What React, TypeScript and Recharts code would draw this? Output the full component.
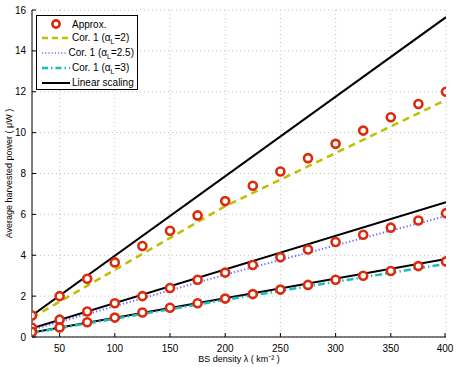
import React from "react"
import {
  ComposedChart,
  Line,
  Scatter,
  XAxis,
  YAxis,
  CartesianGrid,
} from "recharts"

// BS density (km^-2)
const densities = [25, 50, 75, 100, 125, 150, 175, 200, 225, 250, 275, 300, 325, 350, 375, 400]

// Approximation markers, one per curve family
const approxA2 = [1.05, 2.0, 2.85, 3.65, 4.45, 5.2, 5.95, 6.65, 7.4, 8.1, 8.75, 9.45, 10.1, 10.75, 11.4, 12.0]
const approxA25 = [0.45, 0.85, 1.25, 1.65, 2.0, 2.4, 2.8, 3.15, 3.52, 3.9, 4.28, 4.65, 5.0, 5.35, 5.7, 6.06]
const approxA3 = [0.25, 0.47, 0.72, 0.95, 1.2, 1.43, 1.65, 1.88, 2.1, 2.32, 2.55, 2.8, 3.0, 3.23, 3.47, 3.7]

// Corollary 1 curves (read at a few densities)
const corDensities = [25, 200, 400]
const corA2 = [0.95, 6.4, 11.6]
const corA25 = [0.35, 3.05, 5.92]
const corA3 = [0.2, 1.82, 3.58]

// Linear scaling references (end points)
const linDensities = [25, 400]
const linA2 = [1.05, 15.65]
const linA25 = [0.42, 6.6]
const linA3 = [0.22, 3.82]

const xTicks = [50, 100, 150, 200, 250, 300, 350, 400]
const yTicks = [0, 2, 4, 6, 8, 10, 12, 14, 16]

const RED = "#dd2a0c"
const OLIVE = "#bfbf00"
const BLUE = "#6f6fff"
const CYAN = "#1cbcbc"

const font = "'Liberation Sans', Arial, sans-serif"

const toPts = (xs: number[], ys: number[]) => xs.map((x, i) => ({ x, y: ys[i] }))

const RingDot = (props: any) => {
  const { cx, cy } = props
  if (cx == null || cy == null) return null
  return <circle cx={cx} cy={cy} r={4} fill="#fff" stroke={RED} strokeWidth={2.6} />
}

// tick labels plus MATLAB-style inward tick marks
const YTick = (props: any) => {
  const { x, y, payload } = props
  return (
    <g>
      <line x1={x + 6} y1={y} x2={x + 10} y2={y} stroke="#000" strokeWidth={1} />
      <text x={x} y={y} dy={3.5} textAnchor="end" fontSize={10} fontFamily={font} fill="#000">
        {payload.value}
      </text>
    </g>
  )
}

const XTick = (props: any) => {
  const { x, y, payload } = props
  return (
    <g>
      <line x1={x} y1={y - 6} x2={x} y2={y - 10} stroke="#000" strokeWidth={1} />
      <text x={x} y={y} dy={9} textAnchor="middle" fontSize={10} fontFamily={font} fill="#000">
        {payload.value}
      </text>
    </g>
  )
}

const legendRows = [
  { kind: "approx", label: "Approx." },
  { kind: "a2", label: "2" },
  { kind: "a25", label: "2.5" },
  { kind: "a3", label: "3" },
  { kind: "lin", label: "Linear scaling" },
]

function Symbol({ kind }: { kind: string }) {
  return (
    <svg width={30} height={10} style={{ display: "block" }}>
      {kind === "approx" && <circle cx={15} cy={5} r={3.6} fill="#fff" stroke={RED} strokeWidth={2.6} />}
      {kind === "a2" && <line x1={1} y1={5} x2={29} y2={5} stroke={OLIVE} strokeWidth={2.5} strokeDasharray="6 4" />}
      {kind === "a25" && <line x1={1} y1={5} x2={29} y2={5} stroke={BLUE} strokeWidth={1.5} strokeDasharray="1.2 2" />}
      {kind === "a3" && <line x1={1} y1={5} x2={29} y2={5} stroke={CYAN} strokeWidth={2.5} strokeDasharray="6 3 1.5 3" />}
      {kind === "lin" && <line x1={1} y1={5} x2={29} y2={5} stroke="#000" strokeWidth={2} />}
    </svg>
  )
}

function LegendBox() {
  return (
    <div
      style={{
        position: "absolute",
        left: 36,
        top: 15,
        border: "1px solid #000",
        background: "#fff",
        padding: "2px 3px 2px 4px",
        fontFamily: font,
        fontSize: 10,
        lineHeight: "11px",
        color: "#000",
        width: 102,
        height: 75,
        boxSizing: "border-box",
      }}
    >
      {legendRows.map((r) => (
        <div key={r.kind} style={{ display: "flex", alignItems: "center", height: r.kind === "approx" ? 12 : 15 }}>
          <Symbol kind={r.kind} />
          <span style={{ marginLeft: 1, whiteSpace: "nowrap" }}>
            {r.kind === "approx" || r.kind === "lin" ? (
              r.label
            ) : (
              <>
                Cor. 1 (α<sub style={{ fontSize: 7, lineHeight: 0 }}>L</sub>=
                {r.label})
              </>
            )}
          </span>
        </div>
      ))}
    </div>
  )
}

export default function App() {
  return (
    <div style={{ position: "absolute", left: 0, top: 0, width: 457, height: 367, background: "#fff" }}>
      <ComposedChart width={457} height={367} margin={{ top: 10, right: 11, bottom: 0, left: 0 }}>
        <CartesianGrid stroke="#c4c4c4" strokeDasharray="1 3" />
        <XAxis
          type="number"
          dataKey="x"
          domain={[25, 400]}
          ticks={xTicks}
          allowDataOverflow
          height={30}
          tickLine={false}
          tickSize={4}
          axisLine={{ stroke: "#000" }}
          tick={<XTick />}
          label={{
            value: "BS density λ ( km⁻² )",
            position: "insideBottom",
            offset: 5,
            style: { fontSize: 9, fill: "#000", fontFamily: font },
          }}
        />
        <YAxis
          type="number"
          dataKey="y"
          domain={[0, 16]}
          ticks={yTicks}
          width={32}
          tickLine={false}
          tickSize={4}
          axisLine={{ stroke: "#000" }}
          tick={<YTick />}
          label={{
            value: "Average harvested power ( μW )",
            angle: -90,
            position: "insideLeft",
            offset: 9,
            style: { fontSize: 9, fill: "#000", fontFamily: font, textAnchor: "middle" },
          }}
        />
        <Line data={toPts(linDensities, linA2)} dataKey="y" stroke="#000" strokeWidth={2} dot={false} isAnimationActive={false} />
        <Line data={toPts(linDensities, linA25)} dataKey="y" stroke="#000" strokeWidth={2} dot={false} isAnimationActive={false} />
        <Line data={toPts(linDensities, linA3)} dataKey="y" stroke="#000" strokeWidth={2} dot={false} isAnimationActive={false} />
        <Line data={toPts(corDensities, corA2)} dataKey="y" stroke={OLIVE} strokeWidth={2.5} strokeDasharray="7 5" dot={false} isAnimationActive={false} />
        <Line data={toPts(corDensities, corA25)} dataKey="y" stroke={BLUE} strokeWidth={2} strokeDasharray="1.3 2.2" dot={false} isAnimationActive={false} />
        <Line data={toPts(corDensities, corA3)} dataKey="y" stroke={CYAN} strokeWidth={2.5} strokeDasharray="7 3 1.5 3" dot={false} isAnimationActive={false} />
        <Scatter data={toPts(densities, approxA2)} shape={<RingDot />} isAnimationActive={false} />
        <Scatter data={toPts(densities, approxA25)} shape={<RingDot />} isAnimationActive={false} />
        <Scatter data={toPts(densities, approxA3)} shape={<RingDot />} isAnimationActive={false} />
      </ComposedChart>
      <LegendBox />
    </div>
  )
}
